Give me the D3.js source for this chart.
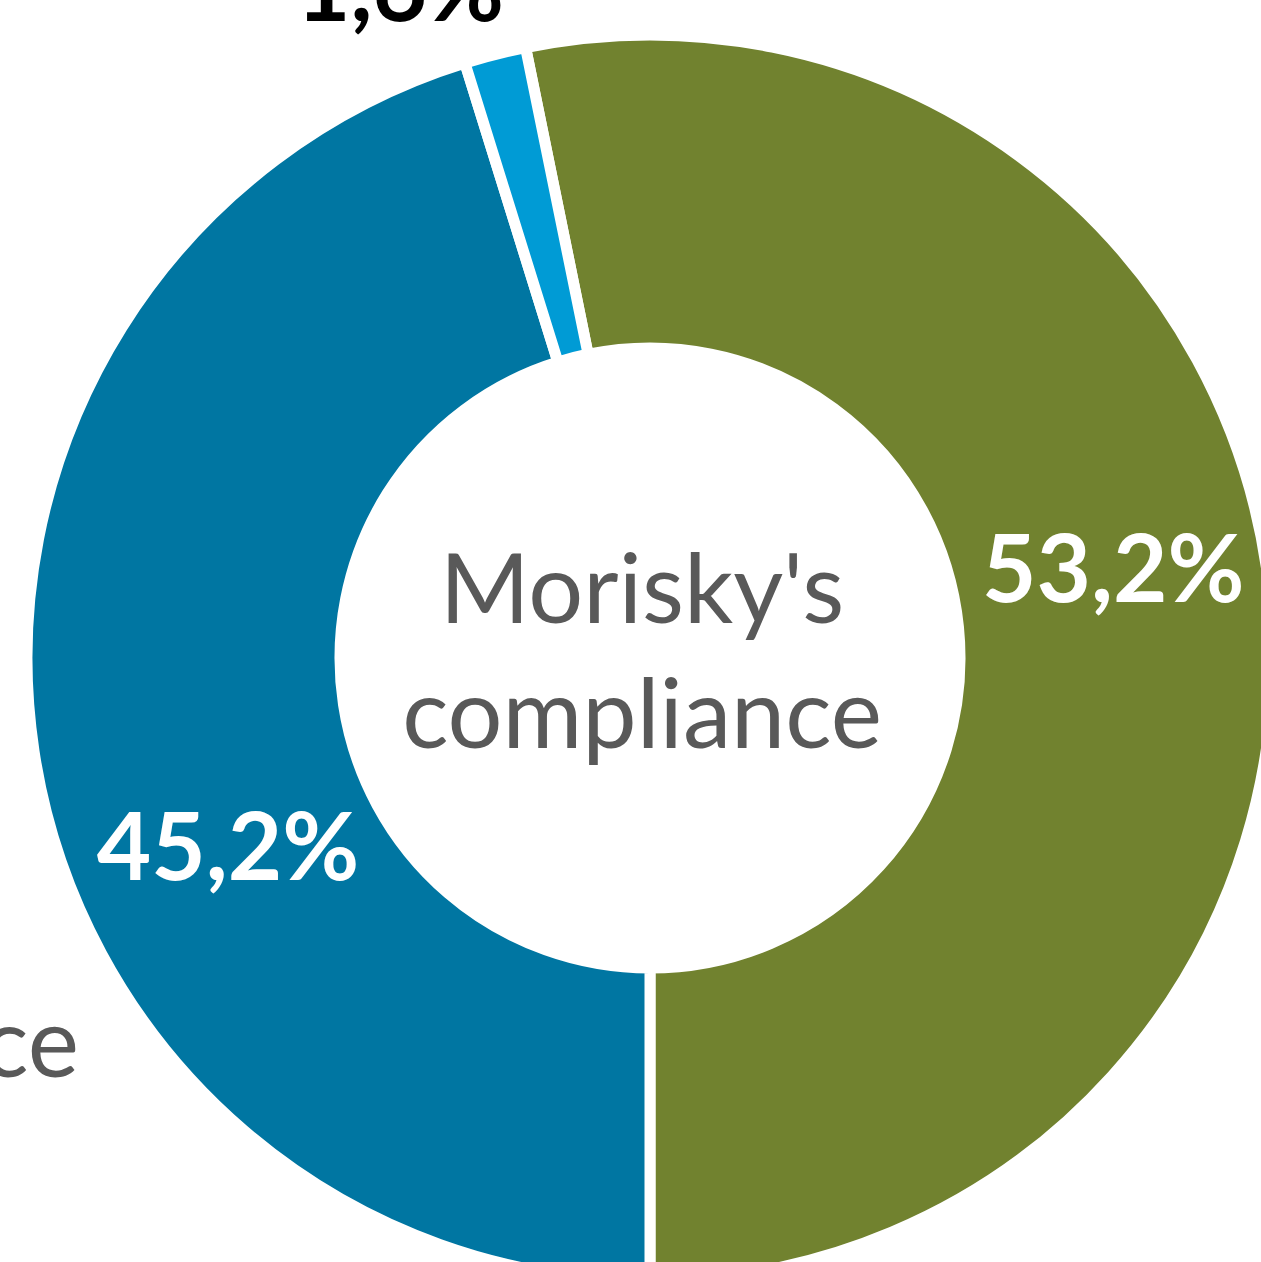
<!DOCTYPE html>
<html>
<head>
    <meta charset="utf-8">
    <title>Morisky's compliance</title>
    <script src="https://d3js.org/d3.v7.min.js"></script>
    <style>
        body { margin: 0; background: #fff; overflow: hidden; }
        svg { display: block; }
    </style>
</head>
<body>
    <script>
        // chart data
        var categories = ["Compliance", "Non-compliance", "No answer"];
        var values = [53.2, 45.2, 1.6];
        var colors = ["#71822f", "#0076a2", "#009bd5"];
        var labelColors = ["#ffffff", "#ffffff", "#000000"];

        var width = 1261, height = 1262;
        var cx = 650, cy = 658;
        var outerR = 623, innerR = 310;

        var svg = d3.select("body")
            .append("svg")
            .attr("width", width)
            .attr("height", height);

        var g = svg.append("g")
            .attr("transform", "translate(" + cx + "," + cy + ")");

        var data = categories.map(function(c, i) {
            return { name: c, value: values[i] };
        });

        // first slice ends exactly at the bottom
        var start = Math.PI - 2 * Math.PI * values[0] / d3.sum(values);

        var pie = d3.pie()
            .sort(null)
            .startAngle(start)
            .endAngle(start + 2 * Math.PI)
            .value(function(d) { return d.value; });

        var arc = d3.arc()
            .innerRadius(innerR)
            .outerRadius(outerR);

        var arcs = pie(data);

        g.selectAll("path")
            .data(arcs)
            .enter()
            .append("path")
            .attr("d", arc)
            .attr("fill", function(d, i) { return colors[i]; })
            .attr("stroke", "#fff")
            .attr("stroke-width", 11);

        // label placement (angle in degrees from top, radius)
        var labelPos = [
            { a: 79.0, r: 472 },
            { a: -114, r: 462 },
            null
        ];
        var fmt = function(v) { return d3.format(".1f")(v).replace(".", ",") + "%"; };

        g.selectAll("text.val")
            .data(arcs)
            .enter()
            .append("text")
            .attr("class", "val")
            .attr("transform", function(d, i) {
                var p = labelPos[i];
                if (!p) return "translate(" + (400 - cx) + "," + (-13 - cy) + ")";
                var t = p.a * Math.PI / 180;
                return "translate(" + (p.r * Math.sin(t)) + "," + (-p.r * Math.cos(t)) + ")";
            })
            .attr("dy", "0.36em")
            .attr("text-anchor", "middle")
            .attr("font-family", "Lato, 'Open Sans', sans-serif")
            .attr("font-weight", "bold")
            .attr("font-size", 94)
            .attr("fill", function(d, i) { return labelColors[i]; })
            .text(function(d) { return fmt(d.data.value); });

        // center title
        var title = g.append("text")
            .attr("text-anchor", "middle")
            .attr("font-family", "Lato, 'Open Sans', sans-serif")
            .attr("font-size", 97)
            .attr("fill", "#595959");
        title.append("tspan").attr("x", -8).attr("y", 623 - cy).text("Morisky's");
        title.append("tspan").attr("x", -8).attr("y", 748 - cy).text("compliance");

        // category label, cut off by the frame
        svg.append("text")
            .attr("x", 79)
            .attr("y", 1077)
            .attr("text-anchor", "end")
            .attr("font-family", "Lato, 'Open Sans', sans-serif")
            .attr("font-size", 97)
            .attr("fill", "#595959")
            .text("ce");
    </script>
</body>
</html>
